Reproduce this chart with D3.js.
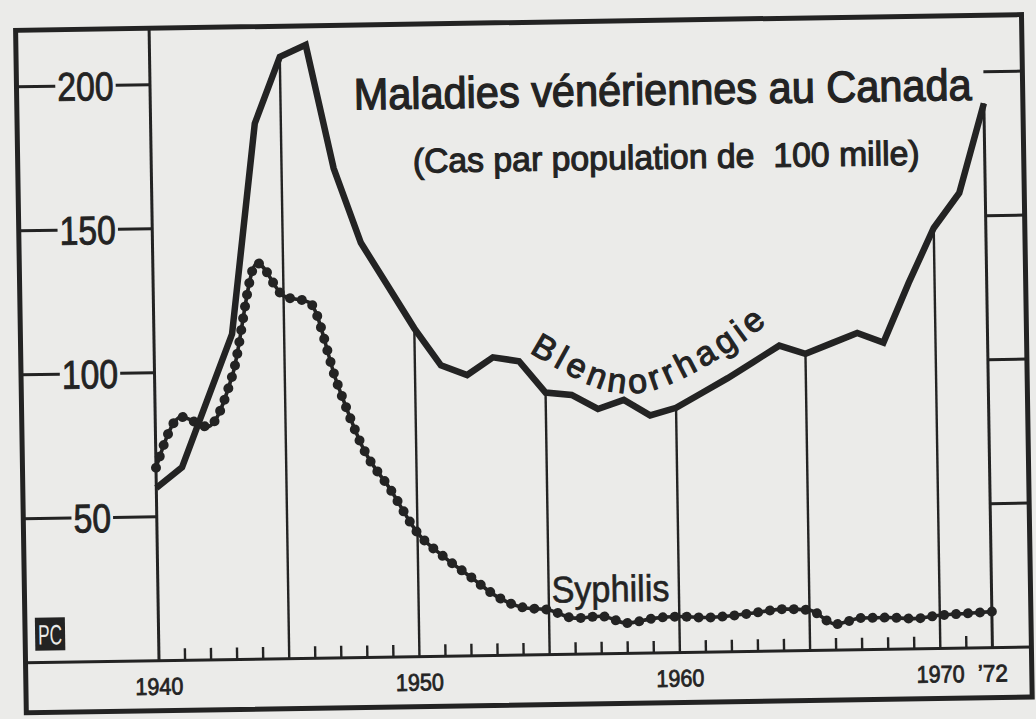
<!DOCTYPE html>
<html><head><meta charset="utf-8">
<script src="https://cdn.jsdelivr.net/npm/d3@7/dist/d3.min.js"></script>
<style>
html,body{margin:0;padding:0;background:#ebebe9;}
svg{display:block;}
</style>
</head><body>
<svg id="chart" width="1036" height="719"></svg>
<script>
// ---------- DATA ----------
const years = [1940,1941,1942,1943,1944,1945,1946,1947,1948,1949,
               1950,1951,1952,1953,1954,1955,1956,1957,1958,1959,
               1960,1961,1962,1963,1964,1965,1966,1967,1968,1969,
               1970,1971,1972];
const blennorrhagie = [60,67,90,113,186,209,213,170,144,129,
                       114,101,97.5,103.5,102,91,90,85,88,82.5,
                       85,90,95,100.5,106,103,106.5,110,106.5,127,
                       146,158,189];
const syphilis = [67,84.5,81,99,137.5,126,123.5,95.5,72,58,
                  43,34.5,27.5,20.5,16.5,15.5,12.5,13,10.5,12,
                  12.5,12,12.5,13.5,14.5,14,9,11,11,10.5,
                  11.5,12,12.5];
const yTicks = [200,150,100,50];
const gridYears = [1945,1950,1955,1960,1965,1970,1972];
const xLabelYears = [1940,1950,1960,1970,1972];
const xLabelTexts = ["1940","1950","1960","1970","\u201972"];
const title = "Maladies vénériennes au Canada";
const subtitle = "(Cas par population de\u00a0 100 mille)";
// label baseline anchors (year, value) for the curved series label
const blennLabelAnchors = [[1954.4,105],[1957.1,92],[1958.7,90.5],[1960.8,97.5],[1963.5,113.5],[1964.6,124]];

// ---------- LAYOUT ----------
const ink = "#232323";
const font = "'Liberation Sans',Arial,sans-serif";
const svg = d3.select("#chart");
svg.append("rect").attr("width",1036).attr("height",719).attr("fill","#ebebe9");
const g = svg.append("g").attr("transform","rotate(-0.9 520 370)");

const frame = {left:21, top:22.5, right:1027, bottom:705};
const x = d3.scaleLinear().domain([1940,1972]).range([154.5, 988]);
const y = d3.scaleLinear().domain([0,200]).range([655, 79]);
const base = y(0);
const val = year => blennorrhagie[years.indexOf(year)];

// outer frame
g.append("rect").attr("x",frame.left).attr("y",frame.top)
  .attr("width",frame.right-frame.left).attr("height",frame.bottom-frame.top)
  .attr("fill","none").attr("stroke",ink).attr("stroke-width",5);

// baseline across
g.append("line").attr("x1",frame.left).attr("x2",frame.right)
  .attr("y1",base).attr("y2",base).attr("stroke",ink).attr("stroke-width",3);

// left divider (1940)
g.append("line").attr("x1",x(1940)).attr("x2",x(1940))
  .attr("y1",frame.top).attr("y2",base).attr("stroke",ink).attr("stroke-width",3);

// vertical grid lines up to blennorrhagie curve
g.selectAll("line.grid").data(gridYears).join("line").attr("class","grid")
  .attr("x1",d=>x(d)).attr("x2",d=>x(d))
  .attr("y1",base).attr("y2",d=>y(val(d)))
  .attr("stroke",ink).attr("stroke-width",d=>d===1972?3:2.4);

// minor yearly ticks
const minor = years.filter(d=>d>1940 && d<1972 && d%5!==0);
g.selectAll("line.minor").data(minor).join("line").attr("class","minor")
  .attr("x1",d=>x(d)).attr("x2",d=>x(d))
  .attr("y1",base).attr("y2",base-12)
  .attr("stroke",ink).attr("stroke-width",2.4);

// left axis ticks with labels in the middle
const labelCx = 90;
yTicks.forEach(t=>{
  const s = String(t);
  const w = s.length*18.8;
  const yy = y(t);
  g.append("line").attr("x1",frame.left).attr("x2",labelCx-w/2-2)
    .attr("y1",yy).attr("y2",yy).attr("stroke",ink).attr("stroke-width",3);
  g.append("line").attr("x1",labelCx+w/2+2).attr("x2",x(1940))
    .attr("y1",yy).attr("y2",yy).attr("stroke",ink).attr("stroke-width",3);
  g.append("text").attr("x",labelCx-w/2).attr("y",yy+14.5)
    .attr("textLength",w).attr("lengthAdjust","spacingAndGlyphs")
    .attr("font-family",font).attr("font-size",40)
    .attr("fill",ink).attr("stroke",ink).attr("stroke-width",0.9).text(s);
});
// right axis ticks (no labels)
g.selectAll("line.rt").data(yTicks).join("line").attr("class","rt")
  .attr("x1",x(1972)).attr("x2",frame.right)
  .attr("y1",d=>y(d)).attr("y2",d=>y(d))
  .attr("stroke",ink).attr("stroke-width",3);

// x labels
g.selectAll("text.xl").data(xLabelYears).join("text").attr("class","xl")
  .attr("x",d=>x(d)).attr("y",689)
  .attr("text-anchor","middle")
  .attr("font-family",font).attr("font-size",24)
  .attr("textLength",(d,i)=>i===4?30:48).attr("lengthAdjust","spacingAndGlyphs")
  .attr("fill",ink).attr("stroke",ink).attr("stroke-width",0.8)
  .text((d,i)=>xLabelTexts[i]);

// PC logo
g.append("rect").attr("x",31).attr("y",610).attr("width",30).attr("height",33).attr("fill",ink);
g.append("text").attr("x",46).attr("y",637).attr("text-anchor","middle")
  .attr("font-family",font).attr("font-size",28).attr("fill","#ebebe9").attr("textLength",24)
  .attr("lengthAdjust","spacingAndGlyphs").text("PC");

// syphilis: beaded line
const sypLine = d3.line().x((d,i)=>x(years[i])).y(d=>y(d)).curve(d3.curveMonotoneX);
const sp = g.append("path").attr("d",sypLine(syphilis))
  .attr("fill","none").attr("stroke",ink).attr("stroke-width",3.6);
const L = sp.node().getTotalLength();
const n = Math.round(L/12);
const beads = d3.range(n+1).map(i=>sp.node().getPointAtLength(i*L/n));
g.selectAll("circle.bead").data(beads).join("circle").attr("class","bead")
  .attr("cx",d=>d.x).attr("cy",d=>d.y).attr("r",5).attr("fill",ink);

// blennorrhagie: thick solid line
const blLine = d3.line().x((d,i)=>x(years[i])).y(d=>y(d));
g.append("path").attr("d",blLine(blennorrhagie))
  .attr("fill","none").attr("stroke",ink).attr("stroke-width",6.5)
  .attr("stroke-linejoin","miter").attr("stroke-miterlimit",3);

// title & subtitle
g.append("text").attr("x",358).attr("y",107)
  .attr("textLength",618).attr("lengthAdjust","spacingAndGlyphs")
  .attr("font-family",font).attr("font-size",44)
  .attr("fill",ink).attr("stroke",ink).attr("stroke-width",1.3).text(title);
g.append("text").attr("x",416).attr("y",171)
  .attr("textLength",507).attr("lengthAdjust","spacingAndGlyphs")
  .attr("font-family",font).attr("font-size",34)
  .attr("fill",ink).attr("stroke",ink).attr("stroke-width",1.1).text(subtitle);

// series labels
const labPath = d3.line().x(d=>x(d[0])).y(d=>y(d[1])).curve(d3.curveCatmullRom);
g.append("path").attr("id","blLab").attr("d",labPath(blennLabelAnchors)).attr("fill","none");
g.append("text").attr("font-family",font)
  .attr("font-size",34).attr("letter-spacing",4.5).attr("fill",ink)
  .attr("stroke",ink).attr("stroke-width",1.1)
  .append("textPath").attr("href","#blLab").text("Blennorrhagie");

g.append("text").attr("x",548).attr("y",603)
  .attr("textLength",118).attr("lengthAdjust","spacingAndGlyphs")
  .attr("font-family",font).attr("font-size",37)
  .attr("fill",ink).attr("stroke",ink).attr("stroke-width",0.6).text("Syphilis");
</script>
</body></html>
